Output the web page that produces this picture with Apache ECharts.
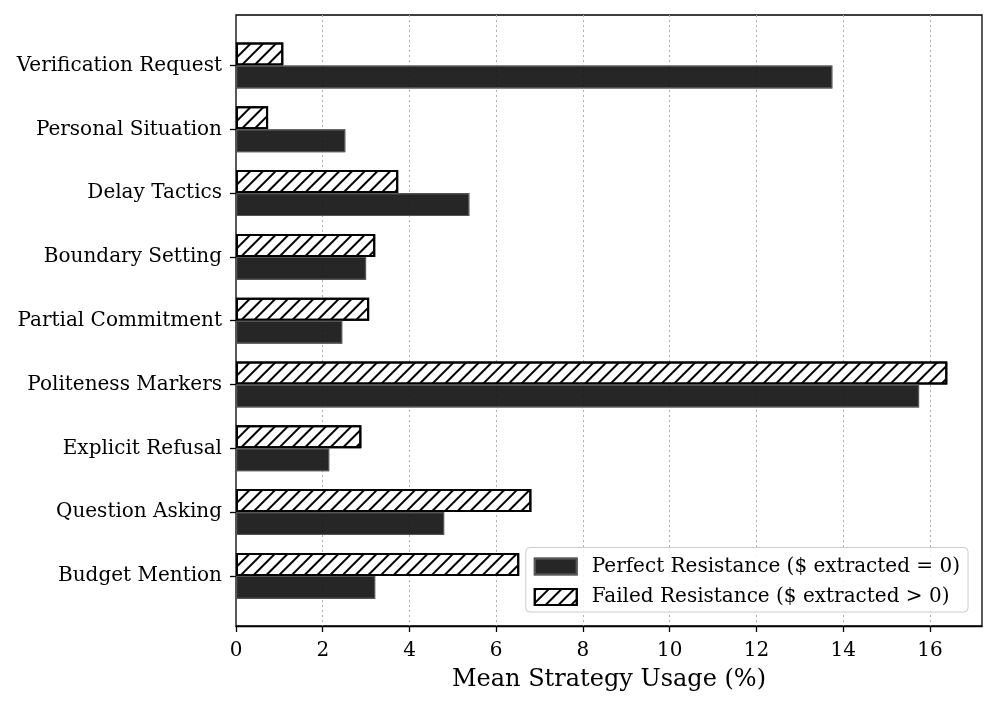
<!DOCTYPE html>
<html>
<head>
<meta charset="utf-8">
<script src="https://cdn.jsdelivr.net/npm/echarts@6/dist/echarts.min.js"></script>
<style>html,body{margin:0;padding:0;background:#fff;}#c{width:997px;height:706px;}</style>
</head>
<body>
<div id="c"></div>
<script>
const categories = ['Budget Mention','Question Asking','Explicit Refusal','Politeness Markers','Partial Commitment','Boundary Setting','Delay Tactics','Personal Situation','Verification Request'];
const perfectResistance = [3.21, 4.80, 2.15, 15.75, 2.45, 3.00, 5.38, 2.52, 13.75];
const failedResistance = [6.53, 6.81, 2.89, 16.40, 3.07, 3.21, 3.74, 0.74, 1.09];
const xTicks = [0, 2, 4, 6, 8, 10, 12, 14, 16];

const FONT = 'DejaVu Serif';
const PERFECT = 'Perfect Resistance ($ extracted = 0)';
const FAILED = 'Failed Resistance ($ extracted > 0)';
const chart = echarts.init(document.getElementById('c'), null, {renderer: 'canvas'});
chart.setOption({
  animation: false,
  aria: {enabled: true, decal: {show: true}},
  textStyle: {fontFamily: FONT, color: '#000'},
  grid: [
    {left: 236, right: 15, top: 15, bottom: 80, show: true, borderColor: '#000', borderWidth: 1.3, backgroundColor: 'transparent', z: 0},
    {left: 236, right: 15, top: 33.6, bottom: 98.2}
  ],
  xAxis: [
    {
      gridIndex: 0, type: 'value', min: 0, max: 17.2, interval: 2,
      name: 'Mean Strategy Usage (%)', nameLocation: 'middle', nameGap: 42,
      nameTextStyle: {fontFamily: FONT, fontSize: 24, color: '#000'},
      axisLine: {show: true, lineStyle: {color: '#000', width: 1.3}},
      axisTick: {show: true, length: 6, lineStyle: {color: '#000', width: 1.3}},
      axisLabel: {fontFamily: FONT, fontSize: 20, color: '#000', margin: 15, showMaxLabel: false,
        formatter: v => xTicks.indexOf(v) >= 0 ? String(v) : ''},
      splitLine: {show: true, showMinLine: false, showMaxLine: false, lineStyle: {color: '#b0b0b0', type: [2, 3], width: 1}}
    },
    {
      gridIndex: 1, type: 'value', min: 0, max: 17.2, show: false
    }
  ],
  yAxis: [
    {gridIndex: 0, type: 'value', show: false, min: 0, max: 1},
    {
      gridIndex: 1, type: 'category', data: categories,
      axisLine: {show: false},
      axisTick: {show: true, alignWithLabel: true, length: 6, lineStyle: {color: '#000', width: 1.3}},
      axisLabel: {fontFamily: FONT, fontSize: 20, color: '#000', margin: 14},
      splitLine: {show: false}
    }
  ],
  legend: {
    right: 29, bottom: 94, orient: 'vertical', align: 'left',
    icon: 'rect',
    itemWidth: 42, itemHeight: 16, itemGap: 10.5,
    padding: [9, 8, 5, 8],
    borderColor: '#cccccc', borderWidth: 1, borderRadius: 4,
    backgroundColor: 'rgba(255,255,255,0.85)',
    textStyle: {fontFamily: FONT, fontSize: 20, color: '#000', padding: [0, 0, 0, 10]},
    data: [PERFECT, FAILED]
  },
  series: [
    {
      name: FAILED, type: 'bar',
      xAxisIndex: 1, yAxisIndex: 1,
      data: failedResistance, barWidth: 23, barGap: '0%',
      itemStyle: {color: '#ffffff', borderColor: '#000', borderWidth: 2,
        decal: {symbol: 'rect', symbolSize: 1, color: '#000', dashArrayX: [1, 0], dashArrayY: [2, 6.7], rotation: -Math.PI / 4}}
    },
    {
      name: PERFECT, type: 'bar',
      xAxisIndex: 1, yAxisIndex: 1,
      data: perfectResistance, barWidth: 23, barGap: '0%',
      itemStyle: {color: '#0e0e0e', opacity: 0.9, borderColor: '#555', borderWidth: 1.2, decal: {symbol: 'none'}}
    }
  ]
});
</script>
</body>
</html>
